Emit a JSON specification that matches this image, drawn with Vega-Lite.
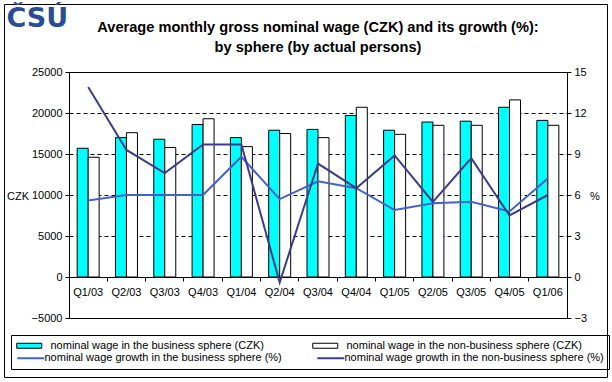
{
  "$schema": "https://vega.github.io/schema/vega-lite/v6.json",
  "autosize": {"type": "none"},
  "padding": {"left": 4, "top": 4, "right": 5, "bottom": 5},
  "width": 603,
  "height": 373,
  "background": "white",
  "config": {
    "view": {"stroke": "black", "strokeWidth": 1},
    "font": "Liberation Sans",
    "axis": {"labelFont": "Liberation Sans", "labelFontSize": 11, "labelColor": "black", "domainColor": "black", "tickColor": "black", "titleColor": "black", "titleFont": "Liberation Sans", "titleFontWeight": "normal", "titleFontSize": 11, "grid": false},
    "legend": {"labelFont": "Liberation Sans", "labelFontSize": 11, "labelColor": "black", "labelLimit": 400}
  },
  "title": {
    "text": ["Average monthly gross nominal wage (CZK) and its growth (%):", "by sphere (by actual persons)"],
    "fontSize": 14.6,
    "font": "Liberation Sans",
    "fontWeight": "bold",
    "color": "black",
    "anchor": "middle",
    "frame": "group",
    "dx": 12.5,
    "offset": -51,
    "lineHeight": 20
  },
  "datasets": {
    "wages": [
      {"q": "Q1/03", "s": "nominal wage in the business sphere (CZK)", "v": 15700},
      {"q": "Q2/03", "s": "nominal wage in the business sphere (CZK)", "v": 17000},
      {"q": "Q3/03", "s": "nominal wage in the business sphere (CZK)", "v": 16800},
      {"q": "Q4/03", "s": "nominal wage in the business sphere (CZK)", "v": 18600},
      {"q": "Q1/04", "s": "nominal wage in the business sphere (CZK)", "v": 17000},
      {"q": "Q2/04", "s": "nominal wage in the business sphere (CZK)", "v": 17900},
      {"q": "Q3/04", "s": "nominal wage in the business sphere (CZK)", "v": 18000},
      {"q": "Q4/04", "s": "nominal wage in the business sphere (CZK)", "v": 19700},
      {"q": "Q1/05", "s": "nominal wage in the business sphere (CZK)", "v": 17900},
      {"q": "Q2/05", "s": "nominal wage in the business sphere (CZK)", "v": 18900},
      {"q": "Q3/05", "s": "nominal wage in the business sphere (CZK)", "v": 19000},
      {"q": "Q4/05", "s": "nominal wage in the business sphere (CZK)", "v": 20700},
      {"q": "Q1/06", "s": "nominal wage in the business sphere (CZK)", "v": 19100},
      {"q": "Q1/03", "s": "nominal wage in the non-business sphere (CZK)", "v": 14600},
      {"q": "Q2/03", "s": "nominal wage in the non-business sphere (CZK)", "v": 17600},
      {"q": "Q3/03", "s": "nominal wage in the non-business sphere (CZK)", "v": 15800},
      {"q": "Q4/03", "s": "nominal wage in the non-business sphere (CZK)", "v": 19300},
      {"q": "Q1/04", "s": "nominal wage in the non-business sphere (CZK)", "v": 15900},
      {"q": "Q2/04", "s": "nominal wage in the non-business sphere (CZK)", "v": 17500},
      {"q": "Q3/04", "s": "nominal wage in the non-business sphere (CZK)", "v": 17000},
      {"q": "Q4/04", "s": "nominal wage in the non-business sphere (CZK)", "v": 20700},
      {"q": "Q1/05", "s": "nominal wage in the non-business sphere (CZK)", "v": 17400},
      {"q": "Q2/05", "s": "nominal wage in the non-business sphere (CZK)", "v": 18500},
      {"q": "Q3/05", "s": "nominal wage in the non-business sphere (CZK)", "v": 18500},
      {"q": "Q4/05", "s": "nominal wage in the non-business sphere (CZK)", "v": 21600},
      {"q": "Q1/06", "s": "nominal wage in the non-business sphere (CZK)", "v": 18500}
    ],
    "growth": [
      {"q": "Q1/03", "s": "nominal wage growth in the business sphere (%)", "v": 5.6},
      {"q": "Q2/03", "s": "nominal wage growth in the business sphere (%)", "v": 6.0},
      {"q": "Q3/03", "s": "nominal wage growth in the business sphere (%)", "v": 6.0},
      {"q": "Q4/03", "s": "nominal wage growth in the business sphere (%)", "v": 6.0},
      {"q": "Q1/04", "s": "nominal wage growth in the business sphere (%)", "v": 8.8},
      {"q": "Q2/04", "s": "nominal wage growth in the business sphere (%)", "v": 5.7},
      {"q": "Q3/04", "s": "nominal wage growth in the business sphere (%)", "v": 7.0},
      {"q": "Q4/04", "s": "nominal wage growth in the business sphere (%)", "v": 6.5},
      {"q": "Q1/05", "s": "nominal wage growth in the business sphere (%)", "v": 4.9},
      {"q": "Q2/05", "s": "nominal wage growth in the business sphere (%)", "v": 5.4},
      {"q": "Q3/05", "s": "nominal wage growth in the business sphere (%)", "v": 5.5},
      {"q": "Q4/05", "s": "nominal wage growth in the business sphere (%)", "v": 4.8},
      {"q": "Q1/06", "s": "nominal wage growth in the business sphere (%)", "v": 7.2},
      {"q": "Q1/03", "s": "nominal wage growth in the non-business sphere (%)", "v": 13.9},
      {"q": "Q2/03", "s": "nominal wage growth in the non-business sphere (%)", "v": 9.3},
      {"q": "Q3/03", "s": "nominal wage growth in the non-business sphere (%)", "v": 7.6},
      {"q": "Q4/03", "s": "nominal wage growth in the non-business sphere (%)", "v": 9.7},
      {"q": "Q1/04", "s": "nominal wage growth in the non-business sphere (%)", "v": 9.7},
      {"q": "Q2/04", "s": "nominal wage growth in the non-business sphere (%)", "v": -0.4},
      {"q": "Q3/04", "s": "nominal wage growth in the non-business sphere (%)", "v": 8.3},
      {"q": "Q4/04", "s": "nominal wage growth in the non-business sphere (%)", "v": 6.5},
      {"q": "Q1/05", "s": "nominal wage growth in the non-business sphere (%)", "v": 8.9},
      {"q": "Q2/05", "s": "nominal wage growth in the non-business sphere (%)", "v": 5.5},
      {"q": "Q3/05", "s": "nominal wage growth in the non-business sphere (%)", "v": 8.7},
      {"q": "Q4/05", "s": "nominal wage growth in the non-business sphere (%)", "v": 4.5},
      {"q": "Q1/06", "s": "nominal wage growth in the non-business sphere (%)", "v": 6.0}
    ]
  },
  "layer": [
    {
      "data": {"name": "wages"},
      "transform": [{"filter": "datum.s == 'nominal wage in the business sphere (CZK)'"}],
      "mark": {"type": "bar", "stroke": "black", "strokeWidth": 1},
      "encoding": {
        "x": {"field": "q", "type": "nominal", "sort": null,
          "scale": {"type": "band", "domain": ["Q1/03","Q2/03","Q3/03","Q4/03","Q1/04","Q2/04","Q3/04","Q4/04","Q1/05","Q2/05","Q3/05","Q4/05","Q1/06"], "range": [65, 563], "paddingInner": 0.426, "paddingOuter": 0.213},
          "axis": {"orient": "bottom", "offset": -100, "ticks": false, "domain": false, "labelPadding": 9, "labelAngle": 0, "title": null, "grid": false}},
        "xOffset": {"field": "s", "type": "nominal", "scale": {"domain": ["nominal wage in the business sphere (CZK)", "nominal wage in the non-business sphere (CZK)"], "paddingInner": 0, "paddingOuter": 0}},
        "y": {"field": "v", "type": "quantitative",
          "scale": {"domain": [-5000, 25000], "range": [314, 68], "nice": false, "zero": false},
          "axis": {"orient": "left", "offset": -65, "values": [-5000, 0, 5000, 10000, 15000, 20000, 25000], "format": "d", "grid": true, "gridDash": [4, 3], "gridColor": "black", "gridOpacity": 1, "tickSize": 4, "labelPadding": 3, "title": "CZK", "titleAngle": 0, "titleX": -62.5, "titleY": 192, "titleAlign": "left", "titleBaseline": "middle"}},
        "fill": {"field": "s", "type": "nominal",
          "scale": {"domain": ["nominal wage in the business sphere (CZK)", "nominal wage in the non-business sphere (CZK)"], "range": ["#00FFFF", "#FFFFFF"]},
          "legend": {
            "title": null, "orient": "none", "direction": "horizontal", "legendX": 12, "legendY": 334.75, "columns": 2, "columnPadding": 46,
            "padding": 0, "labelOffset": 20.5, "symbolSize": 156.25, "symbolOpacity": 1,
            "symbolType": "M-1,-0.4H3V0.4H-1Z", "symbolStrokeColor": "black", "symbolStrokeWidth": 1
          }}
      }
    },
    {
      "data": {"name": "wages"},
      "transform": [{"filter": "datum.s == 'nominal wage in the non-business sphere (CZK)'"}],
      "mark": {"type": "bar", "stroke": "black", "strokeWidth": 1},
      "encoding": {
        "x": {"field": "q", "type": "nominal", "sort": null,
          "axis": {"orient": "bottom", "offset": -100, "labels": false, "bandPosition": -0.371, "tickSize": 4, "domain": true, "title": null, "grid": false}},
        "xOffset": {"field": "s", "type": "nominal"},
        "y": {"field": "v", "type": "quantitative",
          "scale": {"domain": [-5000, 25000], "range": [314, 68], "nice": false, "zero": false},
          "axis": null},
        "fill": {"field": "s", "type": "nominal"}
      }
    },
    {
      "data": {"name": "growth"},
      "transform": [{"filter": "datum.s == 'nominal wage growth in the business sphere (%)'"}],
      "mark": {"type": "line", "strokeWidth": 2},
      "encoding": {
        "x": {"field": "q", "type": "nominal", "sort": null,
          "axis": {"orient": "top", "offset": -68, "labels": false, "ticks": false, "domain": true, "grid": false,
            "title": "ČSÚ", "titleX": 2, "titleY": -46, "titleAlign": "left", "titleBaseline": "alphabetic", "titleAngle": 0,
            "titleFont": "DejaVu Sans", "titleFontSize": 27, "titleFontWeight": "bold", "titleColor": "#2B4C94"}},
        "y": {"field": "v", "type": "quantitative",
          "scale": {"domain": [-3, 15], "range": [314, 68], "nice": false, "zero": false},
          "axis": {"orient": "right", "offset": -40, "values": [-3, 0, 3, 6, 9, 12, 15], "grid": false, "tickSize": 4, "labelPadding": 3, "title": "%", "titleAngle": 0, "titleX": 22.5, "titleY": 192, "titleAlign": "left", "titleBaseline": "middle"}},
        "stroke": {"field": "s", "type": "nominal",
          "scale": {"domain": ["nominal wage growth in the business sphere (%)", "nominal wage growth in the non-business sphere (%)"], "range": ["#4462C6", "#3C3C88"]},
          "legend": {
            "title": " ", "titleOrient": "top", "titleFontSize": 8, "titlePadding": 2.25, "titleLimit": 20,
            "orient": "none", "direction": "horizontal", "legendX": 7, "legendY": 331, "columns": 2, "columnPadding": 31,
            "padding": 5, "strokeColor": "black", "labelOffset": 12.5, "symbolSize": 182.25, "symbolType": "M-1,0H3", "symbolStrokeWidth": 2, "symbolOpacity": 1
          }}
      }
    },
    {
      "data": {"name": "growth"},
      "transform": [{"filter": "datum.s == 'nominal wage growth in the non-business sphere (%)'"}],
      "mark": {"type": "line", "strokeWidth": 2},
      "encoding": {
        "x": {"field": "q", "type": "nominal", "sort": null,
          "axis": {"orient": "bottom", "offset": -59, "labels": false, "ticks": false, "domain": true, "title": null, "grid": false}},
        "y": {"field": "v", "type": "quantitative",
          "scale": {"domain": [-3, 15], "range": [314, 68], "nice": false, "zero": false},
          "axis": null},
        "stroke": {"field": "s", "type": "nominal"}
      }
    }
  ],
  "resolve": {"scale": {"y": "independent"}, "axis": {"x": "independent", "y": "independent"}}
}
